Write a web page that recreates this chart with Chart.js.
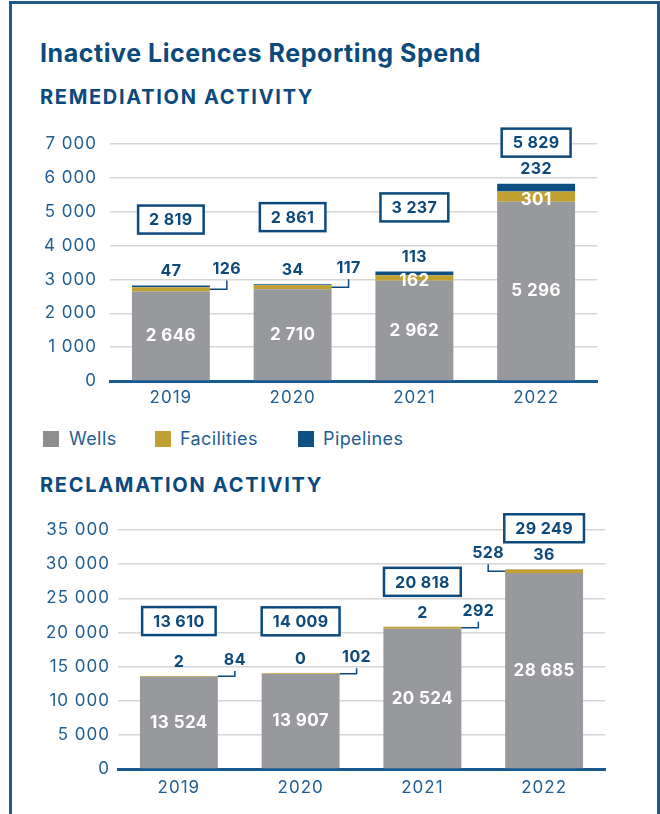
<!DOCTYPE html>
<html>
<head>
<meta charset="utf-8">
<script src="https://cdn.jsdelivr.net/npm/chart.js@4.4.0/dist/chart.umd.min.js"></script>
<style>
html, body { margin: 0; padding: 0; background: #fff; }
body { width: 660px; height: 814px; position: relative; overflow: hidden; font-family: Inter, Lato, sans-serif; }
.frame { position: absolute; left: 9px; top: 1px; width: 651px; height: 840px; border: 3px solid #1d5b8d; border-bottom: none; box-sizing: border-box; }
.txt { position: absolute; line-height: 1; white-space: nowrap; }
.title { left: 40px; top: 41px; font-size: 25px; font-weight: 700; color: #0c4a7d; letter-spacing: 0.55px; }
.sub { left: 40px; font-size: 20px; font-weight: 700; color: #0c4a7d; letter-spacing: 1.7px; }
.legend { position: absolute; top: 430px; left: 0; font-size: 18px; color: #1f5d92; letter-spacing: 0.4px; }
.legend span.sw { position: absolute; top: 1px; width: 16px; height: 16px; }
.legend span.lb { position: absolute; top: 0; line-height: 1; white-space: nowrap; }
.wrap { position: absolute; left: 20px; width: 600px; }
</style>
</head>
<body>
<div class="frame"></div>
<div class="txt title">Inactive Licences Reporting Spend</div>
<div class="txt sub" style="top:87px">REMEDIATION ACTIVITY</div>
<div class="wrap" style="top:120px;height:300px"><canvas id="remChart"></canvas></div>
<div class="legend">
  <span class="sw" style="left:43px;background:#8e8e90"></span><span class="lb" style="left:69px">Wells</span>
  <span class="sw" style="left:155px;background:#c19f31"></span><span class="lb" style="left:180px">Facilities</span>
  <span class="sw" style="left:298px;background:#0d5186"></span><span class="lb" style="left:323px">Pipelines</span>
</div>
<div class="txt sub" style="top:475px">RECLAMATION ACTIVITY</div>
<div class="wrap" style="top:500px;height:310px"><canvas id="recChart"></canvas></div>
<script>
// years on both charts
const years = ['2019', '2020', '2021', '2022'];

// remediation activity
const remWells = [2646, 2710, 2962, 5296];
const remFacilities = [126, 117, 162, 301];
const remPipelines = [47, 34, 113, 232];
const remTicks = ['0', '1 000', '2 000', '3 000', '4 000', '5 000', '6 000', '7 000'];

// reclamation activity
const recWells = [13524, 13907, 20524, 28685];
const recFacilities = [84, 102, 292, 528];
const recPipelines = [2, 0, 2, 36];
const recTicks = ['0', '5 000', '10 000', '15 000', '20 000', '25 000', '30 000', '35 000'];

const NAVY = '#0c4a7d';
const TICK = '#1f5d92';
const WELLS = '#98999d';
const FAC = '#c19f31';
const PIPE = '#0d4f84';

function fmt(v) {
  return String(v).replace(/\B(?=(\d{3})+(?!\d))/g, ' ');
}

// wider tick text, closer to the original typeface
const spacing = {
  id: 'spacing',
  beforeDraw(chart) { chart.ctx.letterSpacing = '1px'; }
};

// draws segment values, connector callouts and the boxed totals
const valueLabels = {
  id: 'valueLabels',
  afterDatasetsDraw(chart, args, opts) {
    var ctx = chart.ctx;
    var ds = chart.data.datasets;
    var mW = chart.getDatasetMeta(0), mF = chart.getDatasetMeta(1);
    var yScale = chart.scales.y;
    ctx.save();
    ctx.letterSpacing = '0.4px';
    ctx.textAlign = 'center';
    ctx.textBaseline = 'middle';
    for (var i = 0; i < chart.data.labels.length; i++) {
      var w = mW.data[i], f = mF.data[i];
      var cx = w.x, half = w.width / 2;
      var total = ds[0].data[i] + ds[1].data[i] + ds[2].data[i];
      var topY = yScale.getPixelForValue(total);
      var labY = topY - 14;

      ctx.font = 'bold 17px Inter';
      ctx.fillStyle = '#ffffff';
      ctx.fillText(fmt(ds[0].data[i]), cx, (w.y + w.base) / 2);

      var fy = (f.y + f.base) / 2;
      var place = opts.facPlace[i];
      if (place === 'inside') {
        ctx.fillStyle = '#ffffff';
        ctx.fillText(fmt(ds[1].data[i]), cx, fy + 3);
      } else {
        var side = place === 'right' ? 1 : -1;
        var ex = cx + side * half;
        var lx = ex + side * 17;
        ctx.strokeStyle = NAVY;
        ctx.lineWidth = 1.5;
        ctx.beginPath();
        ctx.moveTo(ex, fy);
        ctx.lineTo(lx, fy);
        ctx.lineTo(lx, labY + 9);
        ctx.stroke();
        ctx.fillStyle = NAVY;
        ctx.font = 'bold 16px Inter';
        ctx.fillText(fmt(ds[1].data[i]), lx, labY - 2);
      }

      ctx.fillStyle = NAVY;
      ctx.font = 'bold 16px Inter';
      ctx.fillText(fmt(ds[2].data[i]), cx, labY);

      var by = topY - opts.boxLift[i];
      var txt = fmt(total);
      var tw = ctx.measureText(txt).width + 22;
      ctx.fillStyle = '#ffffff';
      ctx.fillRect(cx - tw / 2, by - 14, tw, 28);
      ctx.strokeStyle = NAVY;
      ctx.lineWidth = 2.5;
      ctx.strokeRect(cx - tw / 2, by - 14, tw, 28);
      ctx.fillStyle = NAVY;
      ctx.fillText(txt, cx, by + 1);
    }
    ctx.restore();
  }
};

function makeChart(id, wells, fac, pipe, ticks, maxV, stepV, lay) {
  var ctx = document.getElementById(id).getContext('2d');
  return new Chart(ctx, {
    type: 'bar',
    data: {
      labels: years,
      datasets: [
        { label: 'Wells', data: wells, backgroundColor: WELLS },
        { label: 'Facilities', data: fac, backgroundColor: FAC },
        { label: 'Pipelines', data: pipe, backgroundColor: PIPE }
      ]
    },
    plugins: [spacing, valueLabels],
    options: {
      responsive: true, maintainAspectRatio: false, animation: false,
      devicePixelRatio: 1,
      datasets: { bar: { barPercentage: 1, categoryPercentage: 0.64, borderWidth: 0 } },
      layout: { padding: { left: 0, right: lay.right, top: lay.top, bottom: lay.bottom } },
      plugins: {
        legend: { display: false },
        tooltip: { enabled: false },
        valueLabels: { facPlace: lay.facPlace, boxLift: lay.boxLift }
      },
      scales: {
        x: {
          stacked: true,
          grid: { display: false, drawTicks: false },
          border: { display: true, color: '#175a8f', width: 3 },
          ticks: { color: TICK, font: { family: 'Inter', size: 17 }, padding: lay.xPad },
          afterFit: function(s) { s.height = 34; }
        },
        y: {
          stacked: true, min: 0, max: maxV,
          grid: { color: '#d6d6d6', lineWidth: 1.5, drawTicks: false },
          border: { display: false },
          ticks: {
            stepSize: stepV, color: TICK, font: { family: 'Inter', size: 17 }, padding: lay.yPad,
            callback: function(v, i) { return ticks[i]; }
          },
          afterFit: function(s) { s.width = lay.yWidth; }
        }
      }
    }
  });
}

document.addEventListener('DOMContentLoaded', function() {
  makeChart('remChart', remWells, remFacilities, remPipelines, remTicks, 7000, 1000, {
    right: 23, top: 24, bottom: 5, yWidth: 90, yPad: 13, xPad: 7,
    facPlace: ['right', 'right', 'inside', 'inside'],
    boxLift: [66, 67, 64, 41]
  });
  makeChart('recChart', recWells, recFacilities, recPipelines, recTicks, 35000, 5000, {
    right: 15, top: 30, bottom: 7, yWidth: 98, yPad: 8, xPad: 9,
    facPlace: ['right', 'right', 'right', 'left'],
    boxLift: [55, 52, 45, 41]
  });
});
</script>
</body>
</html>
